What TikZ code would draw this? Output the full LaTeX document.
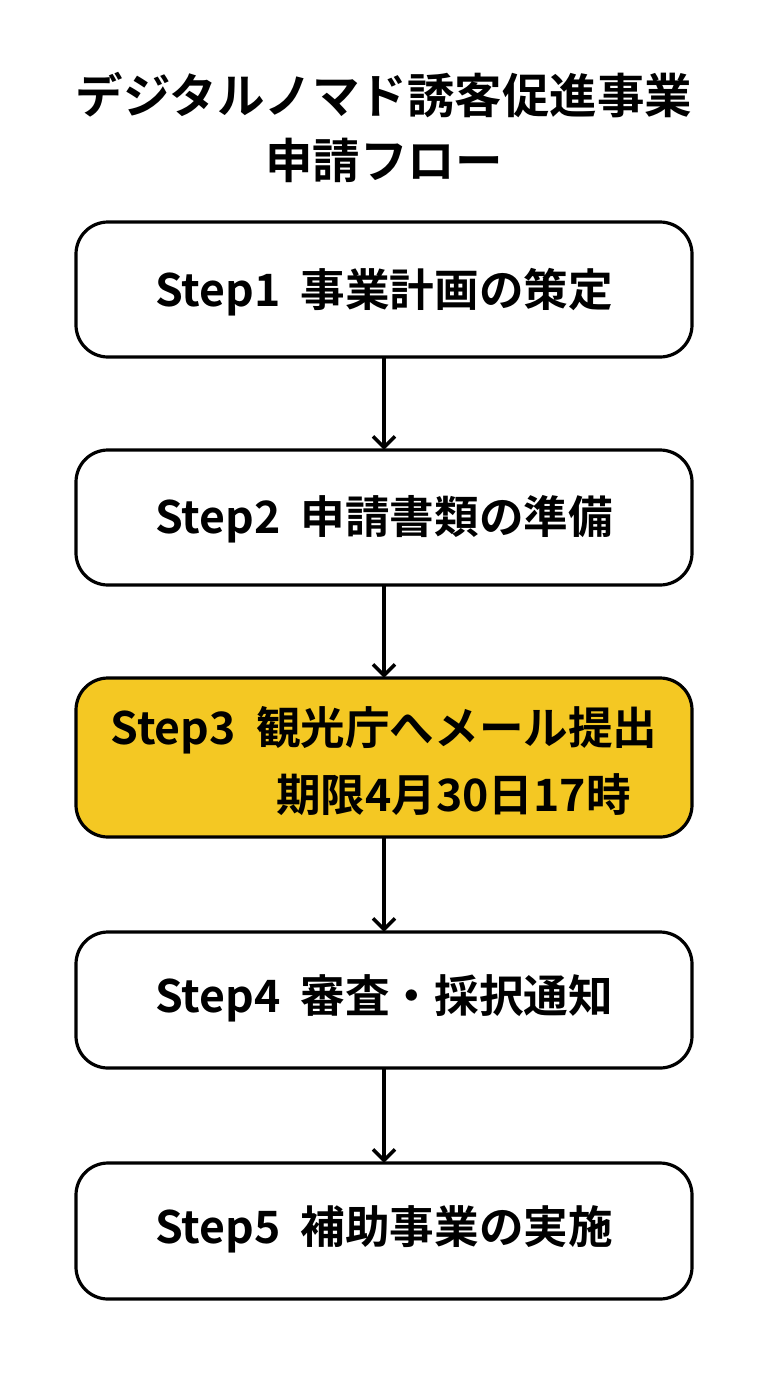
\documentclass[tikz,border=0pt]{standalone}
\usepackage{fontspec}
\setmainfont{Noto Sans CJK JP}[BoldFont={Noto Sans CJK JP Bold}]
\usetikzlibrary{arrows.meta}
\definecolor{stepyellow}{HTML}{F4C823}
\tikzset{
  stepbox/.style={draw=black, line width=3.2pt, rounded corners=32pt, fill=white},
  hilite/.style={stepbox, fill=stepyellow},
  steptext/.style={font=\fontsize{44.6}{52}\selectfont\bfseries, anchor=center, inner sep=0pt},
  titletext/.style={font=\fontsize{47.5}{56}\selectfont\bfseries, anchor=center, inner sep=0pt},
  flow/.style={line width=3.5pt, -{Straight Barb[length=11pt,width=22pt,line width=3.5pt]}},
  frame/.style={draw=none, inner sep=0pt, minimum width=616pt}
}
\begin{document}
\begin{tikzpicture}[x=1pt,y=-1pt]
\useasboundingbox (0,0) rectangle (768,1376);
\fill[white] (0,0) rectangle (768,1376);
\node[titletext] (t1) at (384,95) {デジタルノマド誘客促進事業};
\node[titletext] (t2) at (384,160) {申請フロー};
\draw[stepbox] (76,222) rectangle (692,357);
\node[frame, minimum height=135pt] (b1) at (384,289.5) {};
\node[steptext] (s1) at (384,292) {Step1\ \ 事業計画の策定};
\draw[stepbox] (76,450) rectangle (692,585);
\node[frame, minimum height=135pt] (b2) at (384,517.5) {};
\node[steptext] (s2) at (384,519) {Step2\ \ 申請書類の準備};
\draw[hilite] (76,678) rectangle (692,837);
\node[frame, minimum height=159pt] (b3) at (384,757.5) {};
\node[steptext] (s3a) at (384,730) {Step3\ \ 観光庁へメール提出};
\node[steptext, anchor=west] (s3b) at (276,795) {期限4月30日17時};
\draw[stepbox] (76,932) rectangle (692,1068);
\node[frame, minimum height=136pt] (b4) at (384,1000) {};
\node[steptext] (s4) at (384,998) {Step4\ \ 審査・採択通知};
\draw[stepbox] (76,1163) rectangle (692,1299);
\node[frame, minimum height=136pt] (b5) at (384,1231) {};
\node[steptext] (s5) at (384,1229) {Step5\ \ 補助事業の実施};
\draw[flow] (b1.south) -- (b2.north);
\draw[flow] (b2.south) -- (b3.north);
\draw[flow] (b3.south) -- (b4.north);
\draw[flow] (b4.south) -- (b5.north);
\end{tikzpicture}
\end{document}
